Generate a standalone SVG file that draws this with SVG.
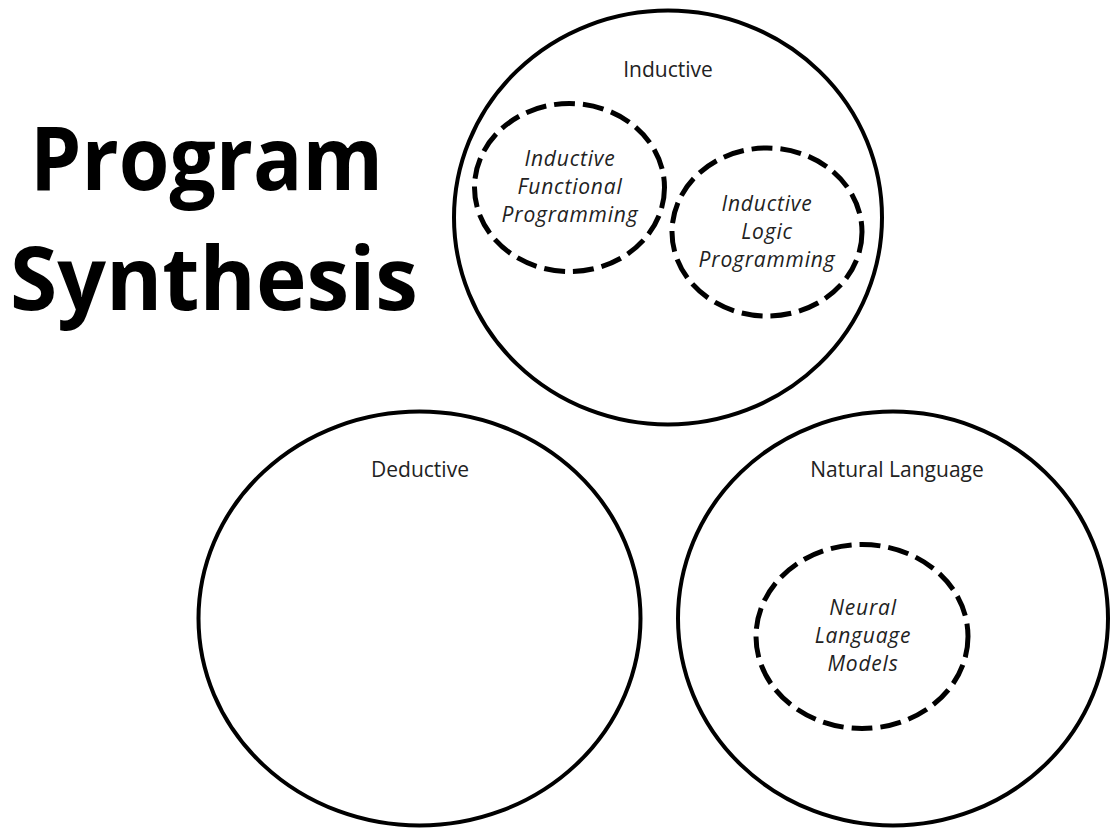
<svg xmlns="http://www.w3.org/2000/svg" width="1111" height="828" viewBox="0 0 1111 828">
  <style>
    .set { fill: none; stroke: #000; stroke-width: 4; }
    .sub { fill: none; stroke: #000; stroke-width: 5; stroke-dasharray: 21 8; }
    .title { font-family: "Open Sans", "Liberation Sans", sans-serif; font-weight: 700; font-size: 87px; fill: #000; }
    .label { font-family: "Open Sans", "Liberation Sans", sans-serif; font-size: 21px; fill: #222; text-anchor: middle; }
    .inner { font-family: "Open Sans", "Liberation Sans", sans-serif; font-style: italic; font-size: 21px; letter-spacing: 0.8px; fill: #222; text-anchor: middle; }
  </style>
  <rect width="1111" height="828" fill="#fff"/>

  <g id="title">
    <text class="title" x="30" y="190" textLength="353" lengthAdjust="spacingAndGlyphs">Program</text>
    <text class="title" x="10" y="310" textLength="408" lengthAdjust="spacingAndGlyphs">Synthesis</text>
  </g>

  <g id="inductive">
    <ellipse class="set" cx="668" cy="217.5" rx="214" ry="207"/>
    <text class="label" x="668" y="77">Inductive</text>
  </g>

  <g id="inductive-functional-programming">
    <ellipse class="sub" cx="569.5" cy="187.5" rx="95" ry="84"/>
    <text class="inner" x="570" y="166">Inductive</text>
    <text class="inner" x="570" y="194">Functional</text>
    <text class="inner" x="570" y="222">Programming</text>
  </g>

  <g id="inductive-logic-programming">
    <ellipse class="sub" cx="767" cy="232" rx="95" ry="84"/>
    <text class="inner" x="767" y="211">Inductive</text>
    <text class="inner" x="767" y="239">Logic</text>
    <text class="inner" x="767" y="267">Programming</text>
  </g>

  <g id="deductive">
    <ellipse class="set" cx="419.5" cy="618.5" rx="221" ry="207"/>
    <text class="label" x="420" y="477">Deductive</text>
  </g>

  <g id="natural-language">
    <ellipse class="set" cx="893" cy="618.5" rx="215" ry="207"/>
    <text class="label" x="897" y="477">Natural Language</text>
  </g>

  <g id="neural-language-models">
    <ellipse class="sub" cx="862" cy="636.5" rx="106" ry="92"/>
    <text class="inner" x="863" y="615">Neural</text>
    <text class="inner" x="863" y="643">Language</text>
    <text class="inner" x="863" y="671">Models</text>
  </g>

  <g id="connectors"></g>
</svg>
